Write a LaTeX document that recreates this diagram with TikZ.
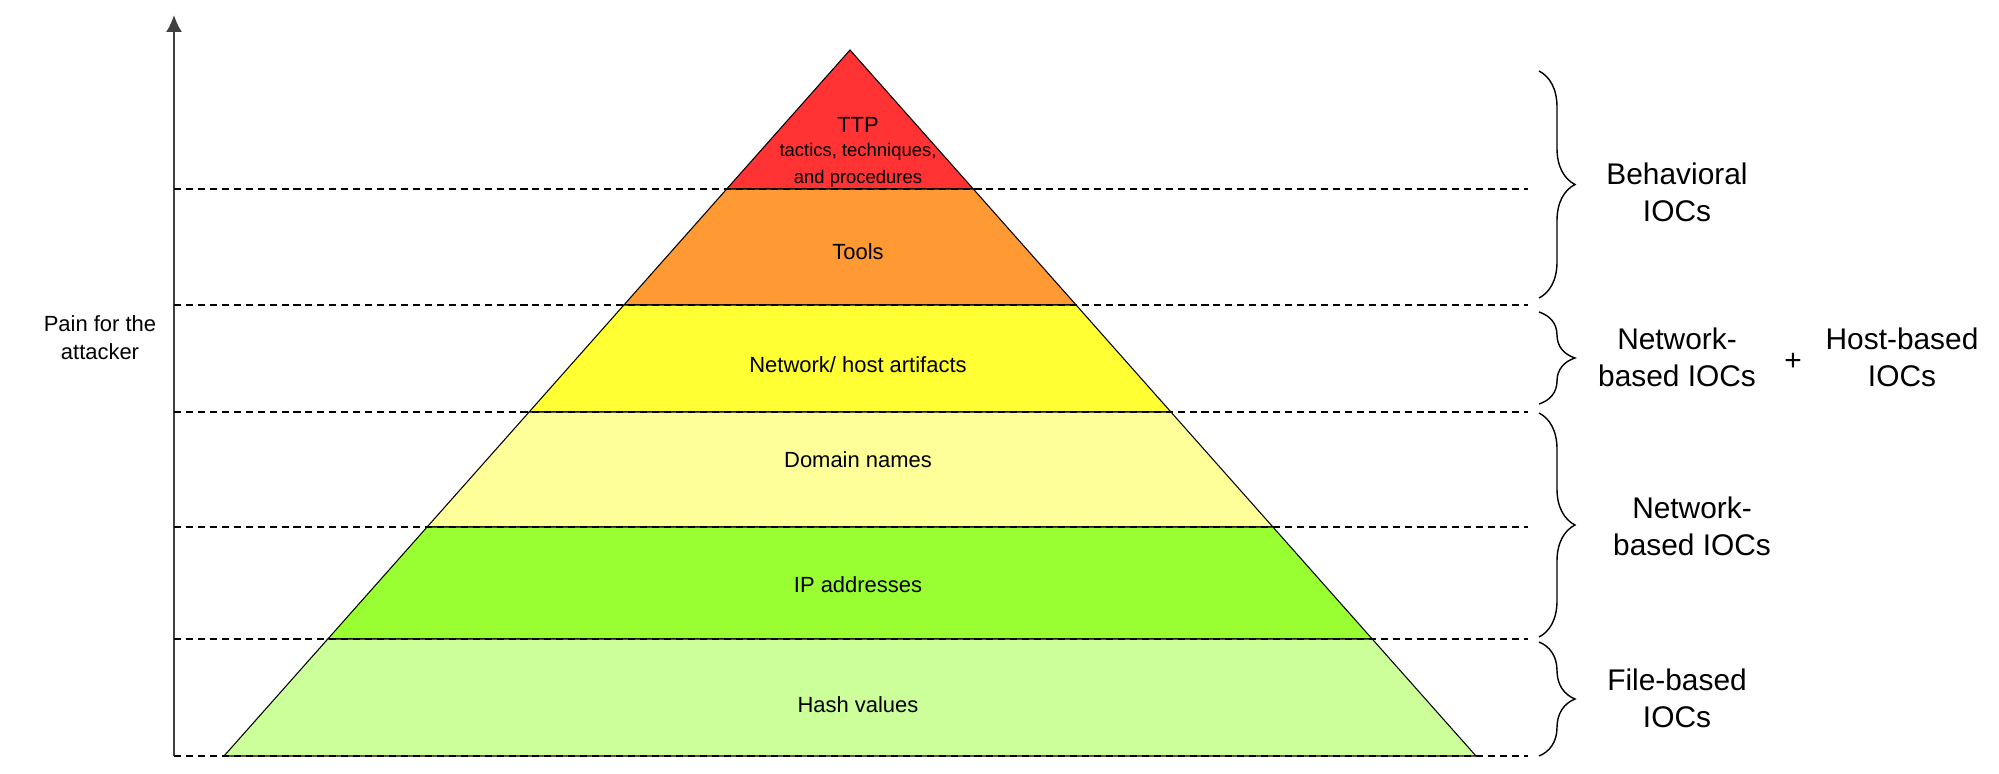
\documentclass[tikz,border=0pt]{standalone}
\usepackage{fontspec}
\setmainfont{Liberation Sans}
\usepackage{xcolor}
\usetikzlibrary{arrows.meta,decorations.pathreplacing}

\definecolor{ttpred}{HTML}{FF3333}
\definecolor{toolorange}{HTML}{FF9933}
\definecolor{artyellow}{HTML}{FFFF33}
\definecolor{domyellow}{HTML}{FFFF99}
\definecolor{ipgreen}{HTML}{99FF33}
\definecolor{hashgreen}{HTML}{CCFF99}

\begin{document}
\begin{tikzpicture}[x=0.02cm, y=-0.02cm,
  level/.style={draw=black, line width=0.6pt},
  limit/.style={dash pattern=on 4pt off 2.8pt, line width=0.6pt},
  curly/.style={decorate, decoration={brace, amplitude=0.72cm}, line width=0.8pt},
  label/.style={font=\fontsize{12.5}{16}\selectfont, align=center},
  ioc/.style={font=\fontsize{17}{21}\selectfont, align=center}]

\useasboundingbox (0,0) rectangle (1999,774);

% axe
\coordinate (axisbottom) at (174,756);
\coordinate (axistop) at (174,15);
\draw[-{Latex[length=0.34cm,width=0.32cm]}, line width=1.1pt, black!75] (axisbottom) -- (axistop);
\node[label] (pain) at (100,338) {Pain for the\\attacker};

% pyramide
\filldraw[level, fill=ttpred] (850,50) -- (973.3,189) -- (726.7,189) -- cycle;
\filldraw[level, fill=toolorange] (726.7,189) -- (973.3,189) -- (1076.1,305) -- (623.9,305) -- cycle;
\filldraw[level, fill=artyellow] (623.9,305) -- (1076.1,305) -- (1170.9,412) -- (529.1,412) -- cycle;
\filldraw[level, fill=domyellow] (529.1,412) -- (1170.9,412) -- (1272.9,527) -- (427.1,527) -- cycle;
\filldraw[level, fill=ipgreen] (427.1,527) -- (1272.9,527) -- (1372.2,639) -- (327.8,639) -- cycle;
\filldraw[level, fill=hashgreen] (327.8,639) -- (1372.2,639) -- (1476,756) -- (224,756) -- cycle;

% seuils
\draw[limit] (174,189) -- (1528,189);
\draw[limit] (174,305) -- (1528,305);
\draw[limit] (174,412) -- (1528,412);
\draw[limit] (174,527) -- (1528,527);
\draw[limit] (174,639) -- (1528,639);
\draw[limit] (174,756) -- (1528,756);

% niveaux
\node[label] (ttp) at (858,152) {{\fontsize{12.5}{16}\selectfont TTP}\\[-2pt]
  \fontsize{10.5}{16}\selectfont tactics, techniques,\\[-1pt]
  \fontsize{10.5}{16}\selectfont and procedures};
\node[label] (tools) at (858,252) {Tools};
\node[label] (artifacts) at (858,365) {Network/ host artifacts};
\node[label] (domains) at (858,460) {Domain names};
\node[label] (ips) at (858,585) {IP addresses};
\node[label] (hashes) at (858,705) {Hash values};

% accolades
\draw[curly] (1539,71) -- (1539,298);
\draw[curly] (1539,312) -- (1539,404);
\draw[curly] (1539,413) -- (1539,637);
\draw[curly] (1539,642) -- (1539,756);

% texte
\node[ioc] (behavioral) at (1677,192) {Behavioral\\IOCs};
\node[ioc] (netart) at (1677,357) {Network-\\based IOCs};
\node[ioc] (plus) at (1793,362) {+};
\node[ioc] (hostart) at (1902,357) {Host-based\\IOCs};
\node[ioc] (netdom) at (1692,526) {Network-\\based IOCs};
\node[ioc] (filebased) at (1677,698) {File-based\\IOCs};

\end{tikzpicture}
\end{document}
